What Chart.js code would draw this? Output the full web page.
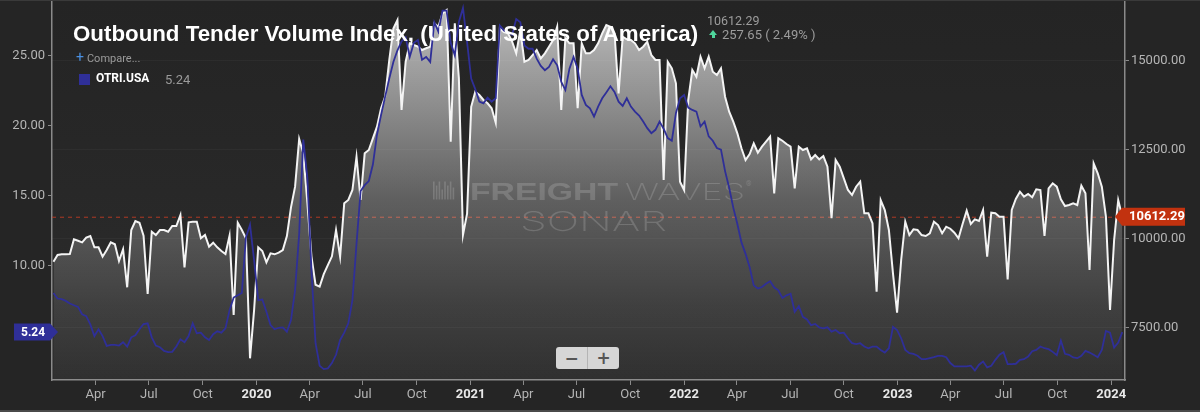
<!DOCTYPE html>
<html lang="en">
<head>
    <meta charset="UTF-8">
    <script src="https://cdn.jsdelivr.net/npm/chart.js@4.4.0/dist/chart.umd.min.js"></script>
    <style>
        body {
            margin: 0;
            background: #252525;
        }

        .wrap {
            position: relative;
            width: 1200px;
            height: 412px;
            overflow: hidden;
            font-family: Roboto, "Liberation Sans", Arial, sans-serif;
        }

        canvas {
            position: absolute;
            left: 0;
            top: 0;
        }

        .overlay {
            position: absolute;
            white-space: nowrap;
            line-height: 1;
        }

        .title {
            left: 73px;
            top: 23px;
            color: #fff;
            font: bold 22.3px "Liberation Sans", Arial, sans-serif;
            line-height: 1;
        }

        .compare { left: 76px; top: 50px; font-size: 11px; color: #9a9a9a; }
        .compare b { color: #4a90e2; font-size: 14px; font-weight: normal; margin-right: 3px; }

        .legend-box { left: 79px; top: 74px; width: 11px; height: 11px; background: #2f2f98; }
        .legend-name { left: 96px; top: 72px; font-size: 12px; font-weight: bold; color: #fff; }
        .legend-value { left: 165px; top: 73px; font-size: 13px; color: #9a9a9a; }

        .price { left: 707px; top: 15px; font-size: 12.5px; color: #9c9c9c; }
        .change { left: 722px; top: 28px; font-size: 13px; color: #9c9c9c; }
        .arrow-head { left: 709px; top: 30px; width: 0; height: 0; border-left: 4px solid transparent; border-right: 4px solid transparent; border-bottom: 5px solid #4fd69c; }
        .arrow-stem { left: 711.5px; top: 35px; width: 3px; height: 3px; background: #4fd69c; }

        .zoom {
            left: 556px;
            top: 347px;
            width: 63px;
            height: 22px;
            background: #d6d6d6;
            border-radius: 3px;
            display: flex;
            color: #555;
            font: bold 17px "DejaVu Sans", sans-serif;
        }

        .zoom span {
            flex: 1;
            text-align: center;
            line-height: 22px;
        }

        .zoom span:first-child { border-right: 1px solid #b4b4b4; }
    </style>
    <title>Outbound Tender Volume Index</title>
</head>
<body>
    <div class="wrap">
        <canvas id="chart" width="1200" height="412"></canvas>
        <div class="overlay title">Outbound Tender Volume Index, (United States of America)</div>
        <div class="overlay compare"><b>+</b>Compare...</div>
        <div class="overlay legend-box"></div>
        <div class="overlay legend-name">OTRI.USA</div>
        <div class="overlay legend-value">5.24</div>
        <div class="overlay price">10612.29</div>
        <div class="overlay arrow-head"></div>
        <div class="overlay arrow-stem"></div>
        <div class="overlay change">257.65 ( 2.49% )</div>
        <div class="overlay zoom"><span>−</span><span>+</span></div>
    </div>

    <script>
        // weekly readings, first week ends 2019-01-19
        const startDate = '2019-01-19';

        // OTVI.USA (right axis, white area)
        const otviValues = [
            9348, 9536, 9556, 9560, 9564, 9978, 9938, 9893, 10023, 10070,
            9753, 9753, 9489, 9677, 9893, 9837, 9368, 9697, 8629, 10239,
            10492, 10444, 10079, 8440, 10191, 10098, 10239, 10239, 10191, 10351,
            10351, 10660, 9191, 10455, 10470, 10472, 10006, 10098, 9770, 9882,
            9753, 9649, 9564, 10079, 7850, 10444, 10239, 10006, 6634, 8000,
            9753, 9649, 9331, 9584, 9556, 9601, 9677, 10070, 10877, 11456,
            12796, 12400, 11000, 9500, 8700, 8650, 9000, 9250, 9500, 10239,
            9489, 10989, 11082, 11363, 12299, 11082, 12394, 12487, 12816, 13142,
            13659, 13985, 15016, 15900, 16140, 13611, 14968, 15485, 15437, 15390,
            15297, 15345, 15390, 16047, 15952, 16326, 16421, 12720, 16047, 14500,
            10100, 10700, 13700, 14125, 14032, 13892, 13799, 13658, 13250, 15900,
            15800, 15766, 15530, 15204, 15859, 14968, 15016, 15156, 15297, 15063,
            15204, 15390, 15578, 15952, 13611, 15626, 15485, 15485, 13659, 15485,
            15204, 15204, 15297, 15485, 15766, 16000, 15952, 15766, 14080, 15671,
            15597, 15578, 15485, 15297, 15390, 15530, 15156, 15016, 15016, 11644,
            14968, 14782, 14361, 11596, 11363, 13892, 14735, 14547, 15109, 14782,
            15109, 14687, 14594, 14782, 13985, 13563, 13282, 12956, 12535, 12206,
            12374, 12675, 12411, 12580, 12720, 12861, 11270, 12816, 12748, 12655,
            12580, 11411, 12580, 12487, 12535, 12225, 12346, 12225, 12318, 12018,
            10568, 12206, 12018, 11692, 11363, 11222, 11456, 11596, 10708, 10708,
            10427, 8505, 11082, 10801, 10239, 9022, 7915, 9396, 10472, 10098,
            10258, 10239, 10098, 10070, 10146, 10472, 10379, 10146, 10332, 10275,
            10163, 10006, 10407, 10781, 10407, 10539, 10492, 10801, 9489, 10726,
            10708, 10613, 10613, 8853, 10801, 11110, 11315, 11175, 11250, 11158,
            11382, 11363, 10070, 11410, 11551, 11456, 11101, 10913, 10941, 10989,
            10941, 11484, 11270, 9115, 12113, 11832, 11456, 10613, 7991, 9958,
            11082, 10612.29
        ];

        // OTRI.USA (left axis, blue line)
        const otriValues = [
            8.04, 7.64, 7.59, 7.47, 7.28, 7.16, 7.04, 6.52, 6.38, 5.79,
            4.96, 5.44, 4.96, 4.26, 4.33, 4.33, 4.28, 4.52, 4.21, 4.87,
            5.01, 5.44, 5.82, 5.87, 4.87, 4.28, 4.16, 3.90, 3.81, 3.83,
            4.21, 4.73, 4.52, 4.96, 5.87, 5.16, 5.20, 4.87, 4.68, 5.09,
            5.30, 5.20, 5.51, 6.81, 7.71, 7.87, 8.04, 12.01, 12.91, 10.35,
            7.52, 7.57, 6.69, 5.74, 5.44, 5.55, 5.58, 5.27, 6.10, 8.23,
            12.25, 19.00, 16.26, 9.65, 4.45, 2.84, 2.60, 2.65, 3.03, 3.62,
            4.68, 5.20, 5.87, 7.52, 11.54, 15.32, 15.74, 16.03, 17.21, 19.34,
            20.76, 22.06, 23.35, 24.54, 25.37, 26.00, 26.30, 24.90, 25.90, 26.10,
            24.70, 24.89, 24.54, 27.38, 26.70, 28.20, 28.20, 25.90, 25.01, 27.40,
            28.40, 25.96, 23.35, 22.60, 21.70, 21.58, 21.99, 21.70, 21.94, 27.14,
            26.79, 26.67, 26.48, 27.60, 27.38, 25.72, 25.48, 25.48, 24.77, 24.26,
            23.95, 24.18, 24.73, 24.30, 23.12, 22.53, 24.06, 24.89, 24.06, 22.18,
            21.47, 21.23, 20.64, 21.35, 21.94, 22.36, 22.80, 22.40, 21.70, 21.40,
            21.94, 21.35, 20.99, 20.71, 20.28, 19.81, 19.45, 19.69, 20.28, 19.77,
            19.10, 18.91, 20.87, 21.94, 22.18, 21.28, 21.11, 20.99, 19.93, 20.28,
            19.22, 18.91, 18.39, 18.28, 16.74, 15.55, 14.13, 12.96, 11.65, 10.83,
            9.88, 8.58, 8.35, 8.46, 8.70, 8.87, 8.42, 8.23, 7.68, 7.87,
            7.99, 6.69, 7.09, 6.33, 6.15, 5.74, 5.82, 5.58, 5.51, 5.58,
            5.27, 5.39, 5.16, 5.20, 4.80, 4.45, 4.38, 4.45, 4.21, 4.09,
            4.20, 4.21, 3.97, 3.78, 4.09, 5.62, 5.39, 4.80, 3.97, 3.74,
            3.69, 3.55, 3.31, 3.31, 3.38, 3.45, 3.55, 3.55, 3.45, 3.03,
            2.79, 2.79, 2.79, 2.79, 2.84, 2.50, 2.91, 3.14, 2.72, 2.84,
            3.26, 3.62, 3.81, 2.96, 2.96, 2.98, 3.26, 3.31, 3.50, 3.88,
            3.97, 4.21, 4.09, 4.02, 3.83, 3.59, 4.63, 3.69, 3.62, 3.43,
            3.38, 3.55, 3.90, 3.78, 3.62, 3.45, 3.97, 5.32, 5.20, 4.14,
            4.49, 5.24
        ];

        const xTickDates = [
            '2019-04-01', '2019-07-01', '2019-10-01', '2020-01-01',
            '2020-04-01', '2020-07-01', '2020-10-01', '2021-01-01',
            '2021-04-01', '2021-07-01', '2021-10-01', '2022-01-01',
            '2022-04-01', '2022-07-01', '2022-10-01', '2023-01-01',
            '2023-04-01', '2023-07-01', '2023-10-01', '2024-01-01'
        ];
        const xTickLabels = [
            'Apr', 'Jul', 'Oct', '2020', 'Apr', 'Jul', 'Oct', '2021',
            'Apr', 'Jul', 'Oct', '2022', 'Apr', 'Jul', 'Oct', '2023',
            'Apr', 'Jul', 'Oct', '2024'
        ];
        const leftTicks = [10, 15, 20, 25];
        const rightTicks = [7500, 10000, 12500, 15000];

        const DAY = 86400000;
        const epoch = Date.UTC(2019, 0, 1);
        const dayOf = (s) => (Date.parse(s) - epoch) / DAY;

        const firstDay = dayOf(startDate);
        const otviPoints = otviValues.map((v, i) => ({ x: firstDay + 7 * i, y: v }));
        const otriPoints = otriValues.map((v, i) => ({ x: firstDay + 7 * i, y: v }));
        const xTickDays = xTickDates.map(dayOf);
        const isYear = (label) => /^\d{4}$/.test(label);

        const lastOtvi = otviValues[otviValues.length - 1];
        const lastOtri = otriValues[otriValues.length - 1];

        function areaGradient(context) {
            const { ctx, chartArea } = context.chart;
            if (!chartArea) return null;
            const g = ctx.createLinearGradient(0, chartArea.top, 0, chartArea.bottom);
            g.addColorStop(0, 'rgba(255,255,255,0.72)');
            g.addColorStop(0.15, 'rgba(255,255,255,0.58)');
            g.addColorStop(0.52, 'rgba(255,255,255,0.26)');
            g.addColorStop(0.8, 'rgba(255,255,255,0.10)');
            g.addColorStop(1, 'rgba(255,255,255,0.02)');
            return g;
        }

        function fitText(ctx, text, x, baseline, width) {
            const w = ctx.measureText(text).width;
            ctx.save();
            ctx.translate(x, baseline);
            ctx.scale(width / w, 1);
            ctx.fillText(text, 0, 0);
            ctx.restore();
        }

        // vertical axes must not reserve room for half label heights
        function fixVertical(width) {
            return (scale) => {
                scale.width = width;
                scale.paddingTop = 0;
                scale.paddingBottom = 0;
            };
        }

        const backdrop = {
            id: 'backdrop',
            beforeDraw(chart) {
                const { ctx, chartArea: a, width, height } = chart;
                ctx.save();
                ctx.fillStyle = '#252525';
                ctx.fillRect(0, 0, width, height);
                const g = ctx.createLinearGradient(0, a.top, 0, a.bottom);
                g.addColorStop(0, '#242424');
                g.addColorStop(1, '#2c2c2c');
                ctx.fillStyle = g;
                ctx.fillRect(a.left, a.top, a.right - a.left, a.bottom - a.top);
                ctx.fillStyle = '#3a3a3a';
                ctx.fillRect(0, 0, width, 1);
                ctx.fillStyle = '#4a4a4a';
                ctx.fillRect(0, height - 2, width, 2);
                ctx.restore();
            }
        };

        const watermark = {
            id: 'watermark',
            beforeDatasetsDraw(chart) {
                const { ctx } = chart;
                ctx.save();
                ctx.fillStyle = 'rgba(255,255,255,0.16)';
                // logo bars
                const bars = [18, 14, 18, 10, 18, 14, 18, 12];
                bars.forEach((h, k) => ctx.fillRect(433 + k * 2.8, 199.5 - h, 1.6, h));
                ctx.font = 'bold 23px "Liberation Sans", Arial, sans-serif';
                fitText(ctx, 'FREIGHT', 470, 199.5, 148);
                ctx.font = '200 23px Inter, Lato, "Open Sans", sans-serif';
                fitText(ctx, 'WAVES', 625, 199.5, 120);
                ctx.font = '7px Roboto, sans-serif';
                ctx.fillText('®', 746, 186);
                ctx.font = '200 27px Inter, Lato, "Open Sans", sans-serif';
                fitText(ctx, 'SONAR', 520, 231, 147);

                // last-value guide
                const y = chart.scales.y1.getPixelForValue(lastOtvi);
                ctx.strokeStyle = 'rgba(200,60,35,0.85)';
                ctx.lineWidth = 1;
                ctx.setLineDash([4, 4]);
                ctx.beginPath();
                ctx.moveTo(chart.chartArea.left, y + 0.5);
                ctx.lineTo(chart.chartArea.right, y + 0.5);
                ctx.stroke();
                ctx.restore();
            }
        };

        const valueTags = {
            id: 'valueTags',
            afterDraw(chart) {
                const { ctx, chartArea } = chart;
                ctx.save();
                // the last x label runs under the right axis panel
                ctx.fillStyle = '#252525';
                ctx.fillRect(chartArea.right + 1, chartArea.bottom + 1, 80, 27);

                // left tag (OTRI)
                const yl = chart.scales.y.getPixelForValue(lastOtri);
                ctx.fillStyle = '#2f2f98';
                ctx.beginPath();
                ctx.moveTo(14, yl - 8.5);
                ctx.lineTo(50, yl - 8.5);
                ctx.lineTo(58, yl);
                ctx.lineTo(50, yl + 8.5);
                ctx.lineTo(14, yl + 8.5);
                ctx.closePath();
                ctx.fill();
                ctx.fillStyle = '#ffffff';
                ctx.font = 'bold 12px Roboto, sans-serif';
                ctx.textBaseline = 'middle';
                ctx.textAlign = 'left';
                ctx.fillText(lastOtri.toFixed(2), 21, yl + 0.5);

                // right tag (OTVI)
                const yr = chart.scales.y1.getPixelForValue(lastOtvi);
                ctx.fillStyle = '#c2320f';
                ctx.beginPath();
                ctx.moveTo(1115, yr);
                ctx.lineTo(1122, yr - 9);
                ctx.lineTo(1185, yr - 9);
                ctx.lineTo(1185, yr + 9);
                ctx.lineTo(1122, yr + 9);
                ctx.closePath();
                ctx.fill();
                ctx.fillStyle = '#ffffff';
                ctx.font = 'bold 13px Roboto, sans-serif';
                ctx.fillText(lastOtvi.toFixed(2), 1129, yr + 0.5);
                ctx.restore();
            }
        };

        const tickFont = { family: 'Roboto, sans-serif', size: 13 };

        new Chart(document.getElementById('chart'), {
            type: 'line',
            data: {
                datasets: [
                    {
                        label: 'OTRI.USA',
                        data: otriPoints,
                        yAxisID: 'y',
                        borderColor: '#2f2f98',
                        borderWidth: 1.8,
                        pointRadius: 0,
                        fill: false,
                        tension: 0
                    },
                    {
                        label: 'OTVI.USA',
                        data: otviPoints,
                        yAxisID: 'y1',
                        borderColor: '#f4f4f4',
                        borderWidth: 2,
                        pointRadius: 0,
                        fill: 'start',
                        backgroundColor: areaGradient,
                        tension: 0
                    }
                ]
            },
            options: {
                responsive: false,
                animation: false,
                devicePixelRatio: 1,
                events: [],
                layout: { padding: { top: 2, left: 0, right: 0, bottom: 0 } },
                plugins: {
                    legend: { display: false },
                    tooltip: { enabled: false }
                },
                scales: {
                    x: {
                        type: 'linear',
                        min: 15.5,
                        max: 1849.6,
                        afterBuildTicks: (scale) => { scale.ticks = xTickDays.map(v => ({ value: v })); },
                        afterFit: (scale) => { scale.height = 32; },
                        grid: { drawOnChartArea: false, drawTicks: true, tickLength: 5, tickColor: '#8a8a8a' },
                        border: { color: '#8a8a8a', width: 1.5 },
                        ticks: {
                            autoSkip: false,
                            maxRotation: 0,
                            padding: 2,
                            callback: (value, index) => xTickLabels[index],
                            color: (c) => isYear(xTickLabels[c.index]) ? '#e8e8e8' : '#b5b5b5',
                            font: (c) => ({ ...tickFont, weight: isYear(xTickLabels[c.index]) ? 'bold' : 'normal' })
                        }
                    },
                    y: {
                        position: 'left',
                        min: 1.82,
                        max: 28.82,
                        afterBuildTicks: (scale) => { scale.ticks = leftTicks.map(v => ({ value: v })); },
                        afterFit: fixVertical(52),
                        grid: { drawOnChartArea: false, tickLength: 4, tickColor: '#8a8a8a' },
                        border: { color: '#8a8a8a', width: 1.5 },
                        ticks: {
                            color: '#b5b5b5',
                            font: tickFont,
                            padding: 3,
                            callback: (v) => Number(v).toFixed(2)
                        }
                    },
                    y1: {
                        position: 'right',
                        min: 6024,
                        max: 16646,
                        afterBuildTicks: (scale) => { scale.ticks = rightTicks.map(v => ({ value: v })); },
                        afterFit: fixVertical(75),
                        grid: { drawOnChartArea: true, color: 'rgba(255,255,255,0.035)', tickLength: 4, tickColor: '#8a8a8a' },
                        border: { color: '#8a8a8a', width: 1.5 },
                        ticks: {
                            color: '#b5b5b5',
                            font: tickFont,
                            padding: 2,
                            callback: (v) => Number(v).toFixed(2)
                        }
                    }
                }
            },
            plugins: [backdrop, watermark, valueTags]
        });
    </script>
</body>
</html>
